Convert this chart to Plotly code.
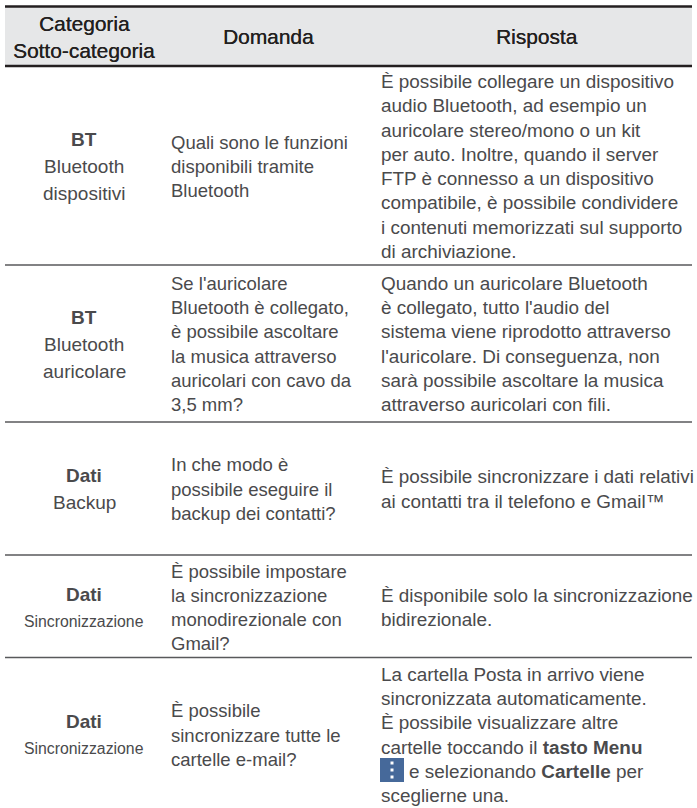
import plotly.graph_objects as go

HEADER_FILL = "#e6e7e8"
DARK = "#231f20"
TEXT = "#4a4a4c"
BOLD = "#2e2b2c"
RULE = "#58595b"
ICON = "#46699a"
FONT = "Liberation Sans"

col1 = [
    ["<b>BT</b>", "Bluetooth", "dispositivi"],
    ["<b>BT</b>", "Bluetooth", "auricolare"],
    ["<b>Dati</b>", "Backup"],
    ["<b>Dati</b>", "Sincronizzazione"],
    ["<b>Dati</b>", "Sincronizzazione"],
]
col2 = [
    ["Quali sono le funzioni", "disponibili tramite", "Bluetooth"],
    ["Se l'auricolare", "Bluetooth è collegato,", "è possibile ascoltare", "la musica attraverso", "auricolari con cavo da", "3,5 mm?"],
    ["In che modo è", "possibile eseguire il", "backup dei contatti?"],
    ["È possibile impostare", "la sincronizzazione", "monodirezionale con", "Gmail?"],
    ["È possibile", "sincronizzare tutte le", "cartelle e-mail?"],
]
col3 = [
    ["È possibile collegare un dispositivo", "audio Bluetooth, ad esempio un", "auricolare stereo/mono o un kit", "per auto. Inoltre, quando il server", "FTP è connesso a un dispositivo", "compatibile, è possibile condividere", "i contenuti memorizzati sul supporto", "di archiviazione."],
    ["Quando un auricolare Bluetooth", "è collegato, tutto l'audio del", "sistema viene riprodotto attraverso", "l'auricolare. Di conseguenza, non", "sarà possibile ascoltare la musica", "attraverso auricolari con fili."],
    ["È possibile sincronizzare i dati relativi", "ai contatti tra il telefono e Gmail™"],
    ["È disponibile solo la sincronizzazione", "bidirezionale."],
    ["La cartella Posta in arrivo viene", "sincronizzata automaticamente.", "È possibile visualizzare altre", "cartelle toccando il <b>tasto Menu</b>", "> e selezionando <b>Cartelle</b> per", "sceglierne una."],
]
header = [["Categoria", "Sotto-categoria"], ["Domanda"], ["Risposta"]]
rules = [265, 422, 555, 657.5]
row_centres = [166.5, 344, 489, 607.5, 735]

fig = go.Figure()

def block(lines, x, cy, anchor, lh=24.3, size=18.7, color=TEXT, shadow=None):
    n = len(lines)
    for i, t in enumerate(lines):
        s = size
        px = x
        if t == "Sincronizzazione":
            s = 15.8
        if t.startswith("> "):
            t = t[2:]
            px = x + 28
        font = dict(family=FONT, size=s, color=color)
        if shadow:
            font["shadow"] = shadow
        fig.add_annotation(x=px, y=cy + (i - (n - 1) / 2) * lh, text=t, showarrow=False,
                           xanchor=anchor, yanchor="middle", align=anchor, font=font)

fig.add_shape(type="rect", x0=5, x1=692, y0=6, y1=66, fillcolor=HEADER_FILL, line_width=0, layer="below")
fig.add_shape(type="line", x0=5, x1=692, y0=6.5, y1=6.5, line=dict(color=DARK, width=2.5))
fig.add_shape(type="line", x0=5, x1=692, y0=66, y1=66, line=dict(color=DARK, width=2.5))
for y in rules:
    fig.add_shape(type="line", x0=5, x1=692, y0=y, y1=y, line=dict(color=RULE, width=1.5))

HS = "0.2px 0 0 #231f20"
block(header[0], 84, 36.5, "center", lh=27, size=20.9, color=DARK, shadow=HS)
block(header[1], 268, 36.5, "center", size=20.9, color=DARK, shadow=HS)
block(header[2], 537, 36.5, "center", size=20.9, color=DARK, shadow=HS)
for i in range(5):
    block(col1[i], 84, row_centres[i], "center", lh=27, size=19)
    block(col2[i], 169, row_centres[i], "left", size=18.5)
    block(col3[i], 379, row_centres[i], "left", size=18.9)

# menu key icon
fig.add_shape(type="rect", x0=380, x1=404, y0=758, y1=782, fillcolor=ICON, line_width=0)
for y in [763, 770, 777]:
    fig.add_shape(type="rect", x0=390.5, x1=393.5, y0=y - 1.5, y1=y + 1.5, fillcolor="white", line_width=0)

fig.update_xaxes(range=[0, 697], visible=False, fixedrange=True)
fig.update_yaxes(range=[808, 0], visible=False, fixedrange=True)
fig.update_layout(width=697, height=808, margin=dict(l=0, r=0, t=0, b=0),
                  paper_bgcolor="white", plot_bgcolor="white", showlegend=False)
fig.write_html("out.html", config={"displayModeBar": False},
               post_script="document.body.style.margin='0';")
